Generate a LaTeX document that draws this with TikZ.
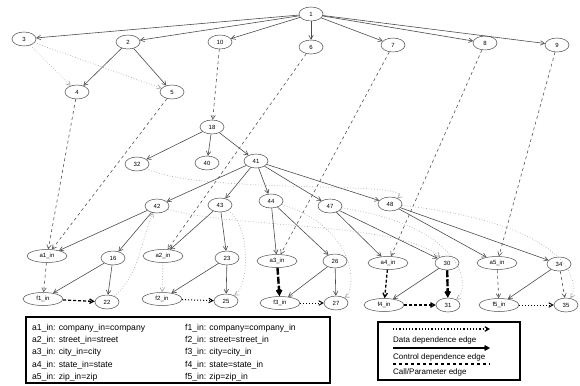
\documentclass[tikz,border=0pt]{standalone}
\usepackage{fontspec}
\setmainfont{Liberation Sans}
\usetikzlibrary{shapes.geometric,arrows.meta}
\begin{document}
\begin{tikzpicture}[x=1pt,y=-1pt,
  nd/.style={ellipse,draw=gray!60!black,line width=0.5pt,minimum width=24pt,minimum height=14pt,inner sep=0pt,font=\fontsize{6}{7}\selectfont},
  pnd/.style={nd,minimum width=40pt,minimum height=13pt},
  tip/.style={-{Straight Barb[length=4pt,width=4.5pt]}},
  ctrl/.style={tip,draw=gray!60!black,line width=0.6pt},
  data/.style={tip,draw=gray!65,line width=0.7pt,dotted},
  call/.style={tip,draw=gray!65!black,line width=0.6pt,dashed},
  thickedge/.style={tip,draw=black,line width=2.4pt,dash pattern=on 7pt off 2pt},
  thickdash/.style={tip,draw=black,line width=1.3pt,dash pattern=on 3pt off 2pt},
  thickdot/.style={tip,draw=black,line width=1pt,dotted},
  legtext/.style={anchor=west,inner sep=0pt,font=\fontsize{8.6}{10}\selectfont},
  legtextb/.style={anchor=west,inner sep=0pt,font=\fontsize{8}{9.5}\selectfont},
]
\useasboundingbox (0,0) rectangle (580,385);
% nodes
\node[nd] (n1) at (311,14) {1};
\node[nd] (n3) at (24,39) {3};
\node[nd] (n2) at (128,42) {2};
\node[nd] (n10) at (220,42) {10};
\node[nd] (n6) at (311,47) {6};
\node[nd] (n7) at (393,45) {7};
\node[nd] (n8) at (485,43) {8};
\node[nd] (n9) at (557,45) {9};
\node[nd] (n4) at (77,92) {4};
\node[nd] (n5) at (172,92) {5};
\node[nd] (n18) at (212,127) {18};
\node[nd] (n32) at (137,164) {32};
\node[nd] (n40) at (207,163) {40};
\node[nd] (n41) at (256,161) {41};
\node[nd] (n42) at (157,206) {42};
\node[nd] (n43) at (220,205) {43};
\node[nd] (n44) at (271,201) {44};
\node[nd] (n47) at (330,206) {47};
\node[nd] (n48) at (390,204) {48};
\node[pnd] (a1) at (47,256) {a1\_in};
\node[nd] (n16) at (113,258) {16};
\node[pnd] (a2) at (163,256) {a2\_in};
\node[nd] (n23) at (227,258) {23};
\node[pnd] (a3) at (277,261) {a3\_in};
\node[nd] (n26) at (335,261) {26};
\node[pnd] (a4) at (388,263) {a4\_in};
\node[nd] (n30) at (447,263) {30};
\node[pnd] (a5) at (497,263) {a5\_in};
\node[nd] (n34) at (559,264) {34};
\node[pnd] (f1) at (43,299) {f1\_in};
\node[nd] (n22) at (107,302) {22};
\node[pnd] (f2) at (162,299) {f2\_in};
\node[nd] (n25) at (226,301) {25};
\node[pnd] (f3) at (280,303) {f3\_in};
\node[nd] (n27) at (336,303) {27};
\node[pnd] (f4) at (384,305) {f4\_in};
\node[nd] (n31) at (448,305) {31};
\node[pnd] (f5) at (499,305) {f5\_in};
\node[nd] (n35) at (566,305) {35};
% control edges
\draw[ctrl] (n1) -- (n3);
\draw[ctrl] (n1) -- (n2);
\draw[ctrl] (n1) -- (n10);
\draw[ctrl] (n1) -- (n6);
\draw[ctrl] (n1) -- (n7);
\draw[ctrl] (n1) -- (n8);
\draw[ctrl] (n1) -- (n9);
\draw[ctrl] (n2) -- (n4);
\draw[ctrl] (n2) -- (n5);
\draw[ctrl] (n18) -- (n32);
\draw[ctrl] (n18) -- (n40);
\draw[ctrl] (n18) -- (n41);
\draw[ctrl] (n41) -- (n42);
\draw[ctrl] (n41) -- (n43);
\draw[ctrl] (n41) -- (n44);
\draw[ctrl] (n41) -- (n47);
\draw[ctrl] (n41) -- (n48);
\draw[ctrl] (n42) -- (a1);
\draw[ctrl] (n42) -- (n16);
\draw[ctrl] (n16) -- (f1);
\draw[ctrl] (n16) -- (n22);
\draw[ctrl] (n43) -- (a2);
\draw[ctrl] (n43) -- (n23);
\draw[ctrl] (n23) -- (f2);
\draw[ctrl] (n23) -- (n25);
\draw[ctrl] (n44) -- (a3);
\draw[ctrl] (n44) -- (n26);
\draw[ctrl] (n26) -- (f3);
\draw[ctrl] (n26) -- (n27);
\draw[ctrl] (n47) -- (a4);
\draw[ctrl] (n47) -- (n30);
\draw[ctrl] (n30) -- (f4);
\draw[ctrl] (n48) -- (a5);
\draw[ctrl] (n48) -- (n34);
\draw[ctrl] (n34) -- (f5);
\draw[call] (n34) -- (n35);
% call / parameter edges
\draw[call] (n4) -- (a1);
\draw[call] (n5) -- (a1);
\draw[call] (n10) -- (n18);
\draw[call] (n6) -- (a2);
\draw[call] (n7) -- (a3);
\draw[call] (n8) -- (a4);
\draw[call] (n9) -- (a5);
\draw[call] (a1) -- (f1);
\draw[data] (a2) -- (f2);
\draw[thickedge] (a3) -- (f3);
\draw[thickdash] (a4) -- (f4);
\draw[thickedge] (n30) -- (n31);
\draw[call] (a5) -- (f5);
% summary edges
\draw[thickdash] (f1) -- (n22);
\draw[thickdot] (f2) -- (n25);
\draw[thickdot] (f3) -- (n27);
\draw[thickdash] (f4) -- (n31);
\draw[thickdot] (f5) -- (n35);
% data dependence edges
\draw[data] (n3) -- (n4);
\draw[data] (n3) -- (n5);
\draw[data] (n22) .. controls (140,275) and (142,235) .. (n42);
\draw[data] (n43) .. controls (250,225) and (250,285) .. (n25);
\draw[data] (n44) .. controls (357,228) and (357,290) .. (n27);
\draw[data] (n47) .. controls (470,228) and (470,290) .. (n31);
\draw[data] (n48) .. controls (576,225) and (579,285) .. (n35);
\draw[data] (n32) .. controls (200,195) and (420,180) .. (n48);
\draw[data] (n42) .. controls (230,228) and (400,222) .. (n30);
% legends
\draw[line width=1.2pt] (26,317) rectangle (330,383);
\node[legtext] (l1) at (32,328) {a1\_in: company\_in=company};
\node[legtext] (l2) at (32,340) {a2\_in: street\_in=street};
\node[legtext] (l3) at (32,352) {a3\_in: city\_in=city};
\node[legtext] (l4) at (32,365) {a4\_in: state\_in=state};
\node[legtext] (l5) at (32,377) {a5\_in: zip\_in=zip};
\node[legtext] (r1) at (185,328) {f1\_in: company=company\_in};
\node[legtext] (r2) at (185,340) {f2\_in: street=street\_in};
\node[legtext] (r3) at (185,352) {f3\_in: city=city\_in};
\node[legtext] (r4) at (185,365) {f4\_in: state=state\_in};
\node[legtext] (r5) at (185,377) {f5\_in: zip=zip\_in};
\draw[line width=1.5pt] (378,322) rectangle (520,380);
\coordinate (d1) at (393,329); \coordinate (d2) at (490,329);
\coordinate (c1) at (393,348); \coordinate (c2) at (490,348);
\coordinate (p1) at (393,364); \coordinate (p2) at (490,364);
\draw[tip,line width=1.2pt,dotted] (d1) -- (d2);
\node[legtextb] (t1) at (393,340) {Data dependence edge};
\draw[tip,line width=1.4pt] (c1) -- (c2);
\node[legtextb] (t2) at (393,357) {Control dependence edge};
\draw[line width=1.2pt,dashed] (p1) -- (p2);
\node[legtextb] (t3) at (393,372) {Call/Parameter edge};
\end{tikzpicture}
\end{document}
